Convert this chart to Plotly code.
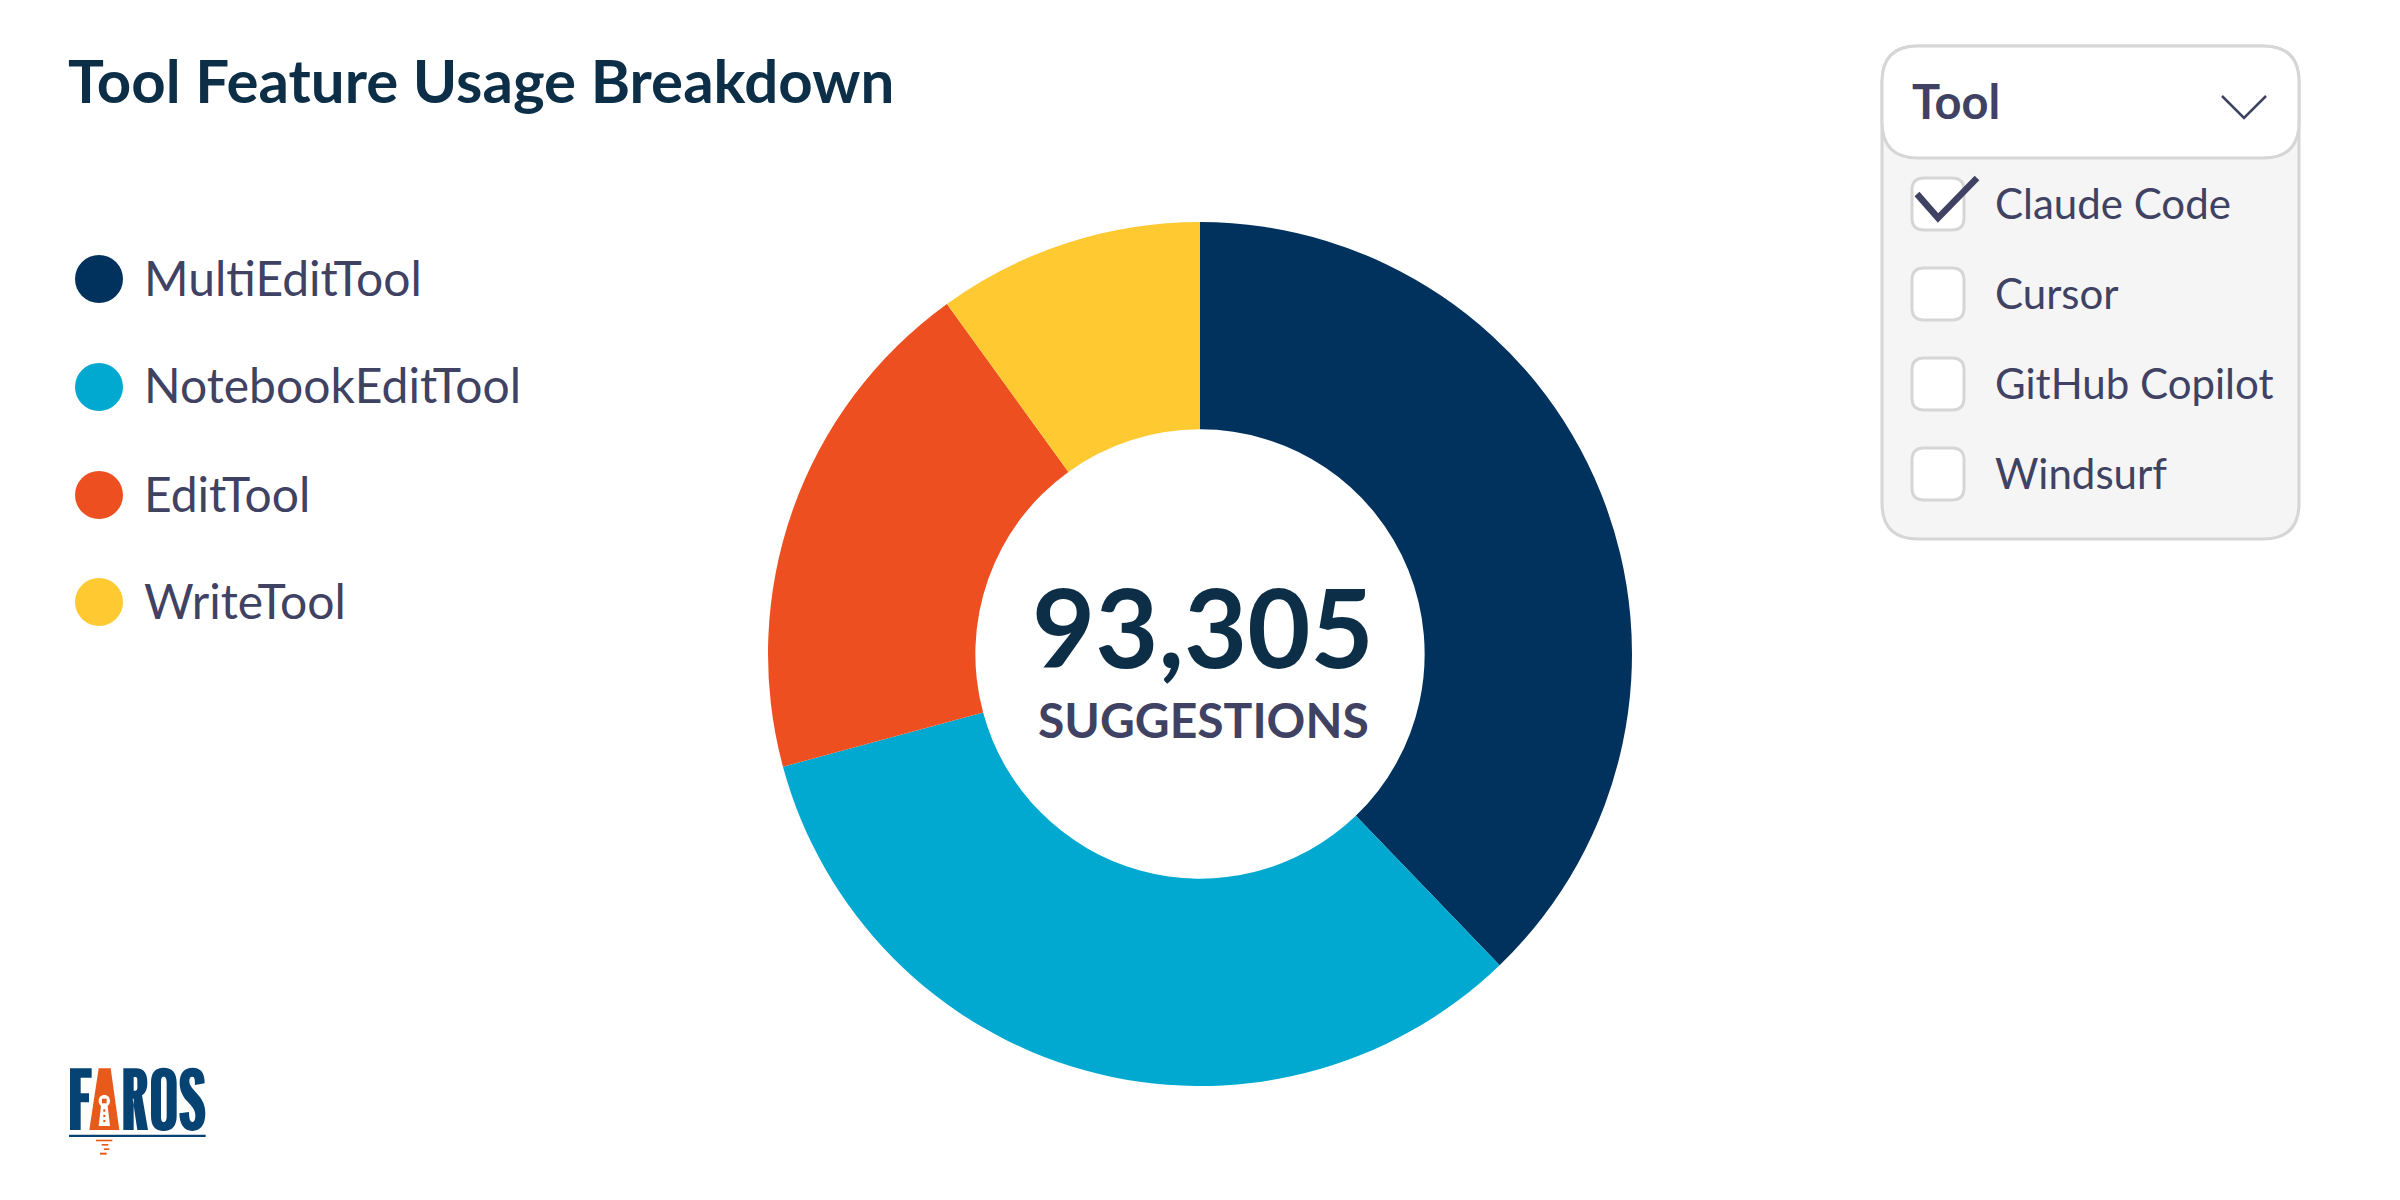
import plotly.graph_objects as go

tool_names = ['MultiEditTool', 'NotebookEditTool', 'EditTool', 'WriteTool']
suggestions = [35270, 30790, 17950, 9295]
slice_colors = ['#01325D', '#01A9D1', '#EE4F21', '#FEC931']
total_label = '93,305'
unit_label = 'SUGGESTIONS'
dropdown_title = 'Tool'
dropdown_items = ['Claude Code', 'Cursor', 'GitHub Copilot', 'Windsurf']
checked_items = ['Claude Code']

W, H = 2400, 1200
NAVY = '#0C2E47'
SLATE = '#3F4263'
BORDER = '#D6D6D6'
FONT = 'Lato'


def fx(x):
    return x / W


def fy(y):
    return 1 - y / H


def round_rect(x0, y0, x1, y1, r):
    return (f'M {fx(x0 + r)} {fy(y0)} L {fx(x1 - r)} {fy(y0)} Q {fx(x1)} {fy(y0)} {fx(x1)} {fy(y0 + r)} '
            f'L {fx(x1)} {fy(y1 - r)} Q {fx(x1)} {fy(y1)} {fx(x1 - r)} {fy(y1)} '
            f'L {fx(x0 + r)} {fy(y1)} Q {fx(x0)} {fy(y1)} {fx(x0)} {fy(y1 - r)} '
            f'L {fx(x0)} {fy(y0 + r)} Q {fx(x0)} {fy(y0)} {fx(x0 + r)} {fy(y0)} Z')


def polyline(points):
    return 'M ' + ' L '.join(f'{fx(x)} {fy(y)}' for x, y in points)


def logo_path(d):
    # logo outline is written in 3x crop units, offset to its place on the page
    out, is_x = [], True
    for tok in d.split():
        if tok.isalpha():
            out.append(tok)
        else:
            v = float(tok)
            if is_x:
                out.append(str(fx(40 + v / 3)))
            else:
                out.append(str(fy(1040 + v / 3)))
            is_x = not is_x
    return ' '.join(out)


def text(x, y, s, size, color, bold=False, anchor='left'):
    return dict(x=fx(x), y=fy(y), xref='paper', yref='paper', text=f'<b>{s}</b>' if bold else s,
                showarrow=False, xanchor=anchor, yanchor='middle',
                font=dict(family=FONT, size=size, color=color))


fig = go.Figure(go.Pie(
    labels=tool_names, values=suggestions, sort=False, direction='clockwise', rotation=0,
    hole=0.52, textinfo='none', hoverinfo='label+value',
    marker=dict(colors=slice_colors, line=dict(width=0)),
    domain=dict(x=[fx(768), fx(1632)], y=[fy(1086), fy(222)]),
))

shapes = []
annotations = [
    text(66, 80, 'Tool Feature Usage Breakdown', 60, NAVY, bold=True),
    text(1203, 625, total_label, 109, NAVY, bold=True, anchor='center'),
    text(1203, 719, unit_label, 48, SLATE, bold=True, anchor='center'),
]

# legend
legend_y = [279, 387, 495, 602]
for name, color, y in zip(tool_names, slice_colors, legend_y):
    shapes.append(dict(type='circle', xref='paper', yref='paper', x0=fx(75), x1=fx(123), y0=fy(y + 24), y1=fy(y - 24),
                       fillcolor=color, line=dict(width=0)))
    annotations.append(text(142, y - 2, name, 48, SLATE))

# dropdown panel
shapes.append(dict(type='path', xref='paper', yref='paper', path=round_rect(1882, 46, 2299, 539, 36),
                   fillcolor='#F5F5F5', line=dict(color=BORDER, width=3)))
shapes.append(dict(type='path', xref='paper', yref='paper', path=round_rect(1882, 46, 2299, 158, 36),
                   fillcolor='white', line=dict(color=BORDER, width=3)))
annotations.append(text(1910, 101, dropdown_title, 47, SLATE, bold=True))
shapes.append(dict(type='path', xref='paper', yref='paper', path=polyline([(2222, 96), (2244, 118), (2266, 96)]),
                   line=dict(color=SLATE, width=2.5)))

item_y = [204, 294, 384, 474]
for item, y in zip(dropdown_items, item_y):
    shapes.append(dict(type='path', xref='paper', yref='paper', path=round_rect(1912, y - 26, 1964, y + 26, 12),
                       fillcolor='white', line=dict(color=BORDER, width=3)))
    annotations.append(text(1993, y - 1, item, 42, SLATE))
    if item in checked_items:
        shapes.append(dict(type='path', xref='paper', yref='paper',
                           path=polyline([(1917, y - 10), (1938, y + 14), (1977, y - 26)]),
                           line=dict(color=SLATE, width=6.5)))

# logo, F R O S in navy, A as the orange lighthouse
logo_navy = [
    'M 90 85 L 155 85 L 155 113 L 122 113 L 122 160 L 147 160 L 147 187 L 122 187 L 122 270 L 90 270 Z',
    'M 250 85 L 288 85 C 312 85 322 100 322 128 C 322 148 316 160 306 166 L 324 270 L 292 270 L 278 176 L 281 176 L 281 270 L 250 270 Z '
    'M 281 111 L 281 152 L 286 152 C 294 152 292 140 292 130 C 292 118 293 111 286 111 Z',
    'M 371 83 C 396 83 410 98 410 128 L 410 228 C 410 258 396 273 371 273 C 346 273 333 258 333 228 L 333 128 C 333 98 346 83 371 83 Z '
    'M 371 110 C 364 110 363 118 363 128 L 363 228 C 363 238 364 246 371 246 C 378 246 380 238 380 228 L 380 128 C 380 118 378 110 371 110 Z',
    'M 458 83 C 482 83 494 98 494 130 L 465 135 C 465 118 464 110 457 110 C 450 110 448 116 448 124 C 448 138 460 148 474 164 '
    'C 488 180 496 196 496 220 C 496 254 482 273 457 273 C 432 273 419 254 418 220 L 447 216 C 447 236 450 246 457 246 '
    'C 464 246 466 238 466 226 C 466 208 454 198 442 184 C 428 168 419 152 419 128 C 419 98 434 83 458 83 Z',
    'M 87 284 L 497 284 L 497 291 L 87 291 Z',
]
logo_orange = [
    'M 176 85 L 212 85 L 238 270 L 148 270 Z M 193 165 C 183 165 176 172 176 183 C 176 190 179 195 183 198 '
    'L 176 258 L 210 258 L 203 198 C 207 195 210 190 210 183 C 210 172 203 165 193 165 Z',
    'M 168 299 L 217 299 L 217 304 L 168 304 Z',
    'M 185 312 L 205 312 L 205 317 L 185 317 Z',
    'M 192 325 L 208 325 L 208 330 L 192 330 Z',
    'M 180 338 L 200 338 L 200 344 L 180 344 Z',
    'M 190 208 L 196 208 L 196 215 L 190 215 Z M 190 224 L 196 224 L 196 231 L 190 231 Z M 190 240 L 196 240 L 196 247 L 190 247 Z',
    'M 186 176 L 200 176 L 200 190 L 186 190 Z',
]
for d in logo_navy:
    shapes.append(dict(type='path', xref='paper', yref='paper', path=logo_path(d), fillcolor='#064272', line=dict(width=0)))
for d in logo_orange:
    shapes.append(dict(type='path', xref='paper', yref='paper', path=logo_path(d), fillcolor='#E85A1A', line=dict(width=0)))

fig.update_layout(
    width=W, height=H, margin=dict(l=0, r=0, t=0, b=0), autosize=False,
    paper_bgcolor='white', plot_bgcolor='white', showlegend=False,
    font=dict(family=FONT, color=SLATE),
    shapes=shapes, annotations=annotations,
)

fig.write_html('out.html', config=dict(displayModeBar=False), post_script="document.body.style.margin='0';")
